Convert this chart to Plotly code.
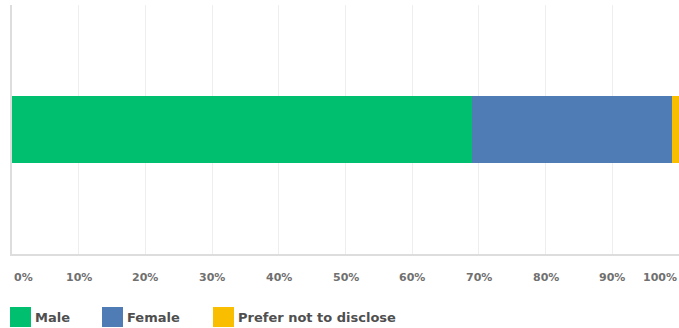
import plotly.graph_objects as go

categories = ["Gender"]
series_names = ["Male", "Female", "Prefer not to disclose"]
male = [68.9]
female = [30.1]
prefer_not = [1.0]
tick_values = [0, 10, 20, 30, 40, 50, 60, 70, 80, 90, 100]
tick_labels = ["0%", "10%", "20%", "30%", "40%", "50%", "60%", "70%", "80%", "90%", "100%"]

colors = ["#00BF6F", "#507CB6", "#F9BE00"]
values = [male, female, prefer_not]

fig = go.Figure()
for name, vals, col in zip(series_names, values, colors):
    fig.add_trace(go.Bar(
        y=categories, x=vals, name=name, orientation="h",
        marker=dict(color=col, line=dict(width=0)), width=0.27,
        showlegend=False,
    ))

FONT = "DejaVu Sans"
annotations = []
for v, t in zip(tick_values, tick_labels):
    anchor = "center"
    if v == 0:
        anchor = "left"
    elif v == 100:
        anchor = "right"
    annotations.append(dict(
        x=v, y=0, xref="x", yref="paper", text=t, showarrow=False,
        xanchor=anchor, yanchor="middle", yshift=-23,
        font=dict(family=FONT, size=11, color="#707070", weight=700),
    ))

# manual legend (pixel offsets from the plot's bottom-left corner)
shapes = []
legend_x = [-2, 90, 201]
for name, col, lx in zip(series_names, colors, legend_x):
    shapes.append(dict(
        type="rect", xref="paper", yref="paper",
        xsizemode="pixel", ysizemode="pixel", xanchor=0, yanchor=0,
        x0=lx, x1=lx + 21, y0=-53, y1=-73,
        fillcolor=col, line=dict(width=0), layer="above",
    ))
    annotations.append(dict(
        x=0, y=0, xref="paper", yref="paper", text=name, showarrow=False,
        xanchor="left", yanchor="middle", xshift=lx + 23, yshift=-63,
        font=dict(family=FONT, size=13, color="#4F4F4F", weight=700),
    ))

fig.update_layout(
    barmode="stack",
    width=679, height=328,
    margin=dict(l=12, r=0, t=5, b=74),
    paper_bgcolor="white", plot_bgcolor="white",
    showlegend=False,
    xaxis=dict(
        range=[0, 100], tickvals=tick_values, showticklabels=False,
        showgrid=True, gridcolor="#EEEEEE", gridwidth=1,
        zeroline=False, showline=True, linecolor="#DDDDDD", linewidth=2,
        fixedrange=True,
    ),
    yaxis=dict(
        range=[-0.5, 0.5], showticklabels=False, showgrid=False,
        zeroline=False, showline=True, linecolor="#DDDDDD", linewidth=2,
    ),
    annotations=annotations,
    shapes=shapes,
)

fig.write_html("out.html", config={"displayModeBar": False},
               post_script="document.body.style.margin='0';")
